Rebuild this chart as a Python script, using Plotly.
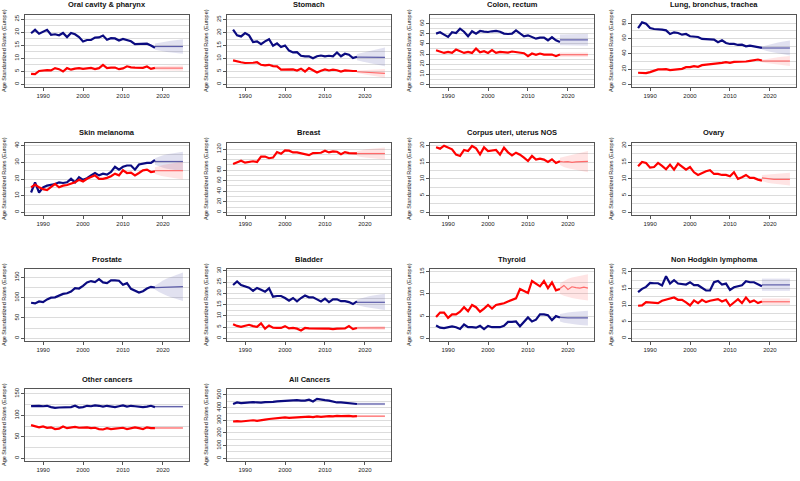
import plotly.graph_objects as go

YEARS = list(range(1987, 2019))
PROJ_YEARS = list(range(2018, 2026))

# ---- Oral cavity & pharynx
ORAL_M = [19.6,20.9,19.4,20.0,20.9,19.0,19.2,18.8,19.7,18.1,19.7,19.2,18.1,16.4,17.0,17.0,17.9,18.0,18.7,17.1,17.7,17.6,16.8,17.4,16.8,16.5,15.4,15.5,15.5,15.6,14.9,14.0]
ORAL_F = [4.0,3.9,5.1,5.3,5.4,5.3,6.2,5.8,4.9,6.2,5.6,6.0,6.2,5.9,6.2,6.3,5.8,6.2,7.4,6.2,6.4,6.4,5.8,6.1,6.9,6.5,6.4,6.3,6.3,6.8,5.9,6.3]
ORAL_M_P = [14.5]*8
ORAL_M_LO = [13.3,13.0,12.7,12.4,12.2,12.0,11.8,11.7]
ORAL_M_HI = [15.7,16.0,16.3,16.5,16.7,16.9,17.1,17.3]
ORAL_F_P = [6.2]*8
ORAL_F_LO = [5.5,5.4,5.4,5.3,5.3,5.3,5.2,5.2]
ORAL_F_HI = [6.9,7.0,7.0,7.1,7.1,7.1,7.2,7.2]

# ---- Stomach
STOM_M = [21.1,18.9,18.5,19.8,18.9,16.3,16.6,15.5,16.6,17.4,14.9,15.8,14.4,15.0,13.0,12.3,12.4,11.0,10.8,10.8,10.0,10.8,11.1,10.8,11.0,10.8,12.3,10.8,11.8,11.4,10.1,10.6]
STOM_F = [9.2,8.7,8.5,8.2,8.2,8.3,8.5,7.5,7.3,7.5,7.0,6.9,5.6,5.6,5.8,5.7,5.3,6.0,4.9,6.2,5.4,4.5,5.2,5.7,5.3,5.6,5.4,4.9,5.3,5.1,5.1,5.1]
STOM_M_P = [10.5,10.5,10.5,10.4,10.4,10.4,10.4,10.4]
STOM_M_LO = [9.3,8.9,8.5,8.1,7.8,7.5,7.2,6.9]
STOM_M_HI = [11.7,12.1,12.5,12.9,13.3,13.6,13.9,14.2]
STOM_F_P = [4.8,4.7,4.6,4.5,4.4,4.3,4.25,4.2]
STOM_F_LO = [4.3,4.0,3.7,3.4,3.1,2.9,2.7,2.5]
STOM_F_HI = [5.3,5.4,5.5,5.6,5.7,5.8,5.8,5.9]

# ---- Colon, rectum
COLON_M = [50.2,51.5,49.2,46.9,51.5,50.8,55.1,52.1,47.5,52.5,50.2,52.8,52.1,51.8,52.5,52.8,52.1,50.2,49.8,50.2,53.4,50.8,47.5,48.5,47.2,45.2,46.2,46.2,43.6,46.6,43.6,42.0]
COLON_F = [33.8,32.1,31.1,32.1,31.1,34.4,32.8,31.1,32.1,31.1,35.4,31.8,32.8,31.1,33.8,31.1,32.1,32.1,31.5,32.5,31.8,30.8,30.8,27.9,30.5,29.2,30.5,29.5,29.8,29.5,27.9,29.5]
COLON_M_P = [44.0]*8
COLON_M_LO = [38.8,38.7,38.6,38.5,38.5,38.4,38.3,38.3]
COLON_M_HI = [49.3,49.4,49.5,49.6,49.7,49.8,49.9,50.0]
COLON_F_P = [29.3]*8
COLON_F_LO = [27.2]*8
COLON_F_HI = [31.5]*8

# ---- Lung, bronchus, trachea
LUNG_M = [73.6,81.0,79.2,73.6,72.3,72.3,71.4,70.6,65.8,68.0,67.1,64.9,65.8,62.8,62.8,61.9,59.3,59.3,59.3,58.4,55.0,57.6,54.1,52.8,52.8,51.5,51.9,49.8,50.6,49.8,48.5,47.6]
LUNG_F = [15.2,15.2,14.7,16.0,17.7,19.5,19.5,19.9,18.6,19.0,20.3,20.3,22.5,22.5,23.8,22.9,25.1,25.5,26.8,27.3,27.7,28.1,29.0,28.1,29.4,29.4,29.4,29.9,30.7,31.6,32.5,31.2]
LUNG_M_P = [47.5]*8
LUNG_M_LO = [45.5,44.0,42.6,41.4,40.3,39.3,38.5,37.7]
LUNG_M_HI = [49.5,51.0,52.4,53.6,54.7,55.7,56.5,57.3]
LUNG_F_P = [30.5]*8
LUNG_F_LO = [28.8,27.8,27.0,26.3,25.6,25.0,24.5,24.0]
LUNG_F_HI = [32.2,33.2,34.0,34.7,35.4,36.0,36.5,37.0]

# ---- Skin melanoma
SKIN_M = [11.9,18.0,11.9,15.0,16.0,16.4,17.0,18.0,17.6,18.0,20.1,18.0,21.1,19.5,20.5,22.2,23.6,22.2,23.2,22.6,24.2,27.3,25.6,27.3,28.1,28.1,25.6,28.7,29.3,29.7,29.7,31.4]
SKIN_F = [15.0,16.6,15.0,13.9,13.3,15.0,17.0,15.0,16.0,16.4,17.0,18.0,19.5,18.5,20.1,21.1,22.2,20.1,20.1,20.7,21.7,23.2,22.2,25.2,23.6,23.8,22.2,23.6,25.2,25.6,24.2,24.6]
SKIN_M_P = [30.5]*8
SKIN_M_LO = [28.5,27.5,26.8,26.2,25.7,25.3,24.9,24.6]
SKIN_M_HI = [32.5,33.5,34.2,34.8,35.3,35.7,36.1,36.4]
SKIN_F_P = [25.0]*8
SKIN_F_LO = [23.0,22.2,21.6,21.1,20.7,20.3,20.0,19.7]
SKIN_F_HI = [27.0,27.8,28.4,28.9,29.3,29.7,30.0,30.3]

# ---- Breast
BREAST_F = [91.5,94.8,98.0,94.2,96.1,96.8,95.5,105.8,105.8,102.6,103.9,114.3,111.0,117.5,116.9,113.6,113.6,112.3,110.4,108.4,112.3,113.0,113.0,116.9,113.6,115.6,114.9,110.4,114.3,112.3,112.3,111.7]
BREAST_F_P = [111.5]*8
BREAST_F_LO = [107.0,105.0,103.8,102.8,102.0,101.3,100.7,100.2]
BREAST_F_HI = [116.0,118.0,119.2,120.2,121.0,121.7,122.3,122.8]

# ---- Corpus uteri, uterus NOS
CORPUS_F = [19.5,19.1,20.0,19.5,18.9,17.3,16.9,18.7,18.4,19.9,19.2,17.4,19.5,18.4,18.5,18.7,17.3,19.4,18.0,17.1,17.9,17.3,16.4,15.4,16.9,15.8,16.1,15.8,15.1,15.9,14.8,15.3]
CORPUS_F_P = [15.3,15.1,15.2,15.0,15.1,15.2,15.2,15.3]
CORPUS_F_LO = [14.2,13.6,13.2,12.9,12.6,12.4,12.2,12.0]
CORPUS_F_HI = [16.4,16.7,17.1,17.3,17.6,17.9,18.1,18.4]

# ---- Ovary
OVARY_F = [13.8,15.1,14.8,13.4,13.6,14.8,13.9,12.9,14.3,12.8,14.6,13.6,12.8,13.6,12.0,11.2,11.8,12.3,12.6,11.5,11.5,11.2,11.2,10.8,12.0,10.0,10.5,11.2,10.3,10.3,9.8,9.5]
OVARY_F_P = [10.3,10.1,10.0,9.9,9.9,9.9,9.9,9.9]
OVARY_F_LO = [9.4,9.0,8.7,8.5,8.3,8.2,8.1,8.0]
OVARY_F_HI = [11.2,11.3,11.4,11.5,11.6,11.7,11.8,11.9]

# ---- Prostate
PROST_M = [87.5,85.8,90.8,89.2,95.8,100.0,100.8,105.0,109.2,110.8,115.0,123.3,122.5,129.2,137.5,140.8,138.3,145.8,137.5,135.8,142.5,142.5,141.7,131.7,135.8,121.7,117.5,112.5,115.8,122.5,126.7,125.0]
PROST_M_P = [124.5,125.0,125.3,125.7,126.0,126.3,126.7,127.0]
PROST_M_LO = [120.0,114.0,109.0,105.0,101.0,97.5,94.5,92.0]
PROST_M_HI = [129.0,136.0,142.0,147.0,151.0,155.0,158.5,162.0]

# ---- Bladder
BLAD_M = [23.7,25.3,23.7,23.0,22.5,21.1,22.4,21.6,20.7,22.2,18.5,18.8,18.8,17.9,16.7,17.9,16.4,17.9,19.0,18.2,18.2,17.3,16.4,17.6,16.1,17.3,17.3,16.5,16.5,16.1,15.2,16.4]
BLAD_F = [6.3,5.5,5.1,5.4,6.0,5.4,5.1,6.6,4.3,5.7,4.7,4.6,4.6,5.4,4.4,4.6,4.3,3.5,4.6,4.4,4.3,4.3,4.1,4.3,4.3,4.1,4.3,4.4,4.4,5.4,4.1,4.6]
BLAD_M_P = [16.0,16.0,16.1,16.2,16.1,16.1,16.0,16.0]
BLAD_M_LO = [14.8,14.3,13.9,13.6,13.3,13.0,12.8,12.6]
BLAD_M_HI = [17.2,17.8,18.3,18.7,19.0,19.3,19.6,19.8]
BLAD_F_P = [4.6]*8
BLAD_F_LO = [3.9,3.8,3.8,3.8,3.7,3.7,3.7,3.7]
BLAD_F_HI = [5.3,5.4,5.4,5.4,5.5,5.5,5.5,5.5]

# ---- Thyroid
THY_M = [2.9,2.4,2.3,2.5,2.7,2.5,2.1,3.1,2.5,2.5,2.4,2.8,2.1,2.8,2.5,2.5,2.5,2.8,3.7,3.7,3.8,2.7,3.7,4.7,3.8,4.2,5.4,5.4,5.2,4.1,5.0,4.7]
THY_F = [4.8,5.8,5.8,4.6,5.4,5.4,6.0,7.0,6.1,7.5,7.0,6.0,6.7,7.5,6.7,7.5,7.7,7.9,8.3,8.6,9.0,11.1,10.6,10.2,12.9,12.2,11.7,12.9,11.3,12.6,10.8,11.1]
THY_M_P = [4.7,4.6,4.6,4.6,4.6,4.6,4.6,4.6]
THY_M_LO = [3.8,3.5,3.3,3.2,3.1,3.0,2.9,2.9]
THY_M_HI = [5.5,5.7,5.8,5.9,6.0,6.1,6.1,6.2]
THY_F_P = [11.2,11.9,11.0,11.6,11.4,11.3,11.5,11.3]
THY_F_LO = [10.0,9.6,9.3,9.1,8.9,8.7,8.6,8.5]
THY_F_HI = [12.4,13.0,13.4,13.7,13.9,14.1,14.3,14.4]

# ---- Non Hodgkin lymphoma
NHL_M = [13.9,14.9,15.5,16.7,16.6,16.6,15.9,18.7,16.5,17.5,16.5,16.3,16.2,16.9,16.0,16.0,15.3,14.4,14.4,16.9,17.3,16.2,16.5,14.6,15.4,15.7,16.0,17.2,16.9,16.9,16.4,15.7]
NHL_F = [9.8,9.9,10.9,10.8,10.6,10.6,11.3,11.6,11.8,12.3,11.6,11.6,10.8,9.9,11.4,10.6,11.6,10.9,11.3,11.6,11.8,11.1,11.6,9.8,10.8,11.8,10.6,12.3,10.9,11.4,10.6,11.1]
NHL_M_P = [16.1]*8
NHL_M_LO = [14.3]*8
NHL_M_HI = [18.0]*8
NHL_F_P = [11.0]*8
NHL_F_LO = [10.0]*8
NHL_F_HI = [12.0]*8

# ---- Other cancers
OTHER_M = [121,122,122,121,122,119,117,118,118,118,119,122,118,119,122,121,123,122,120,122,120,119,121,123,120,122,121,120,119,120,122,119]
OTHER_F = [77,74,72,74,71,72,68,69,74,70,72,73,71,72,72,70,71,68,67,70,68,69,70,71,68,70,72,70,68,72,70,70]
OTHER_M_P = [120.0]*8
OTHER_M_LO = [117.5]*8
OTHER_M_HI = [122.5]*8
OTHER_F_P = [70.5]*8
OTHER_F_LO = [68.0]*8
OTHER_F_HI = [73.0]*8

# ---- All Cancers
ALL_M = [428,440,435,438,440,442,440,438,443,442,445,448,450,452,455,460,458,455,455,462,448,468,460,458,455,447,440,440,438,435,430,428]
ALL_F = [290,293,290,292,295,300,295,298,305,310,313,318,320,322,318,320,325,322,325,328,325,330,327,330,332,330,335,332,333,335,330,332]
ALL_M_P = [428.0]*8
ALL_M_LO = [418.0]*8
ALL_M_HI = [438.0]*8
ALL_F_P = [332.0]*8
ALL_F_LO = [325.0]*8
ALL_F_HI = [339.0]*8

TITLES = ["Oral cavity & pharynx", "Stomach", "Colon, rectum", "Lung, bronchus, trachea",
          "Skin melanoma", "Breast", "Corpus uteri, uterus NOS", "Ovary",
          "Prostate", "Bladder", "Thyroid", "Non Hodgkin lymphoma",
          "Other cancers", "All Cancers"]
Y_LABEL = "Age Standardized Rates (Europe)"
X_TICKS = [1990, 2000, 2010, 2020]
BREAST_TICKS = [0, 20, 40, 60, 80, 100, 120]
BREAST_TICKTEXT = ["0", "20", "40", "60", "80", "", "120"]

PANELS = [
    dict(m=(ORAL_M, ORAL_M_P, ORAL_M_LO, ORAL_M_HI), f=(ORAL_F, ORAL_F_P, ORAL_F_LO, ORAL_F_HI), yr=(-1.05, 26.6), dt=5),
    dict(m=(STOM_M, STOM_M_P, STOM_M_LO, STOM_M_HI), f=(STOM_F, STOM_F_P, STOM_F_LO, STOM_F_HI), yr=(-1.1, 26.8), dt=5),
    dict(m=(COLON_M, COLON_M_P, COLON_M_LO, COLON_M_HI), f=(COLON_F, COLON_F_P, COLON_F_LO, COLON_F_HI), yr=(-2.6, 68.6), dt=10),
    dict(m=(LUNG_M, LUNG_M_P, LUNG_M_LO, LUNG_M_HI), f=(LUNG_F, LUNG_F_P, LUNG_F_LO, LUNG_F_HI), yr=(-3.4, 90.6), dt=20),
    dict(m=(SKIN_M, SKIN_M_P, SKIN_M_LO, SKIN_M_HI), f=(SKIN_F, SKIN_F_P, SKIN_F_LO, SKIN_F_HI), yr=(-1.6, 41.6), dt=10),
    dict(m=None, f=(BREAST_F, BREAST_F_P, BREAST_F_LO, BREAST_F_HI), yr=(-5.1, 131.5), dt=20,
         ticks=(BREAST_TICKS, BREAST_TICKTEXT)),
    dict(m=None, f=(CORPUS_F, CORPUS_F_P, CORPUS_F_LO, CORPUS_F_HI), yr=(-0.83, 20.8), dt=5),
    dict(m=None, f=(OVARY_F, OVARY_F_P, OVARY_F_LO, OVARY_F_HI), yr=(-0.83, 20.8), dt=5),
    dict(m=(PROST_M, PROST_M_P, PROST_M_LO, PROST_M_HI), f=None, yr=(-6.6, 170.5), dt=50),
    dict(m=(BLAD_M, BLAD_M_P, BLAD_M_LO, BLAD_M_HI), f=(BLAD_F, BLAD_F_P, BLAD_F_LO, BLAD_F_HI), yr=(-1.2, 30.8), dt=5),
    dict(m=(THY_M, THY_M_P, THY_M_LO, THY_M_HI), f=(THY_F, THY_F_P, THY_F_LO, THY_F_HI), yr=(-0.6, 15.6), dt=5),
    dict(m=(NHL_M, NHL_M_P, NHL_M_LO, NHL_M_HI), f=(NHL_F, NHL_F_P, NHL_F_LO, NHL_F_HI), yr=(-0.85, 20.9), dt=5),
    dict(m=(OTHER_M, OTHER_M_P, OTHER_M_LO, OTHER_M_HI), f=(OTHER_F, OTHER_F_P, OTHER_F_LO, OTHER_F_HI), yr=(-6.2, 161.0), dt=50),
    dict(m=(ALL_M, ALL_M_P, ALL_M_LO, ALL_M_HI), f=(ALL_F, ALL_F_P, ALL_F_LO, ALL_F_HI), yr=(-21.0, 546.0), dt=100),
]

# ---- layout geometry (pixels)
W, H = 800, 481
ROW_TOP = [15, 143, 269, 389]
COL_LEFT = [25, 227, 430, 632]
BOX_W, BOX_H = 164, 72
FONT = "Liberation Sans, Arial, sans-serif"

STYLE = {
    "m": dict(line="#0b0b80", proj="#5c5ca8", band="rgba(90,90,170,0.18)"),
    "f": dict(line="#ff0000", proj="#ff6a6a", band="rgba(255,90,90,0.16)"),
}

fig = go.Figure()
annotations = []
layout_axes = {}

for i, (p, title) in enumerate(zip(PANELS, TITLES)):
    r, c = divmod(i, 4)
    left, top = COL_LEFT[c], ROW_TOP[r]
    n = i + 1
    xa, ya = f"x{n}", f"y{n}"
    for key in ("m", "f"):
        s = p[key]
        if s is None:
            continue
        obs, mid, lo, hi = s
        st = STYLE[key]
        fig.add_trace(go.Scatter(x=PROJ_YEARS + PROJ_YEARS[::-1], y=list(hi) + list(lo)[::-1],
                                 fill="toself", fillcolor=st["band"], line=dict(width=0),
                                 mode="lines", hoverinfo="skip", showlegend=False,
                                 xaxis=xa, yaxis=ya))
    for key in ("m", "f"):
        s = p[key]
        if s is None:
            continue
        obs, mid, lo, hi = s
        st = STYLE[key]
        fig.add_trace(go.Scatter(x=PROJ_YEARS, y=mid, mode="lines",
                                 line=dict(color=st["proj"], width=1.2),
                                 showlegend=False, xaxis=xa, yaxis=ya))
        fig.add_trace(go.Scatter(x=YEARS, y=obs, mode="lines",
                                 line=dict(color=st["line"], width=2.2),
                                 showlegend=False, xaxis=xa, yaxis=ya))

    xdom = [left / W, (left + BOX_W) / W]
    ydom = [1 - (top + BOX_H) / H, 1 - top / H]
    axis_common = dict(showline=True, linecolor="#555555", linewidth=1, mirror=True,
                       ticks="outside", ticklen=3, tickcolor="#555555", tickwidth=1,
                       zeroline=False, automargin=False,
                       tickfont=dict(family=FONT, size=6, color="#222222"))
    layout_axes[f"xaxis{n}"] = dict(domain=xdom, anchor=ya, range=[1985.48, 2026.52],
                                    tickmode="array", tickvals=X_TICKS, showgrid=False,
                                    **axis_common)
    yax = dict(domain=ydom, anchor=xa, range=list(p["yr"]), tickangle=-90,
               showgrid=True, gridcolor="#dcdcdc", gridwidth=1,
               minor=dict(dtick=p["dt"] / 2, tick0=0, showgrid=True,
                          gridcolor="#dcdcdc", gridwidth=1, ticks=""),
               **axis_common)
    if "ticks" in p:
        yax.update(tickmode="array", tickvals=p["ticks"][0], ticktext=p["ticks"][1])
    else:
        yax.update(tick0=0, dtick=p["dt"])
    layout_axes[f"yaxis{n}"] = yax
    annotations.append(dict(text=f"<b>{title}</b>", x=(left + BOX_W / 2) / W,
                            y=1 - (top - 10) / H, xref="paper", yref="paper",
                            xanchor="center", yanchor="middle", showarrow=False,
                            font=dict(family=FONT, size=7.5, color="#111111")))
    annotations.append(dict(text=Y_LABEL, x=(left - 21) / W, y=1 - (top + BOX_H / 2) / H,
                            xref="paper", yref="paper", xanchor="center", yanchor="middle",
                            textangle=-90, showarrow=False,
                            font=dict(family=FONT, size=5.5, color="#222222")))

fig.update_layout(width=W, height=H, margin=dict(l=0, r=0, t=0, b=0),
                  paper_bgcolor="white", plot_bgcolor="white",
                  showlegend=False, annotations=annotations, **layout_axes)

fig.write_html("out.html", config={"displayModeBar": False},
               post_script="document.body.style.margin='0px';")
